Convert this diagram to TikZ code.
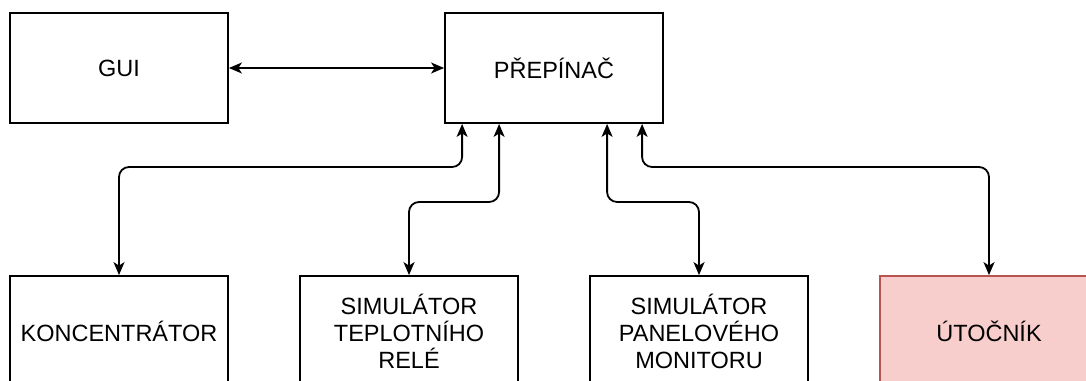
\documentclass[tikz,border=0pt]{standalone}
\usepackage{fontspec}
\setmainfont{Liberation Sans}
\usetikzlibrary{arrows.meta}

\begin{document}
\begin{tikzpicture}[
		x=1pt, y=-1pt,
		%Option for nice arrows
		>={Stealth[length=13pt,width=11pt,inset=3.5pt]}, %
		box/.style={draw, line width=1.8pt, minimum width=218pt,
			minimum height=110pt, align=center, inner sep=0pt,
			font=\fontsize{23.5}{27}\selectfont},
		link/.style={<->, line width=1.8pt, rounded corners=10pt},
	]
		% Colors
		\definecolor{attackfill}{HTML}{F8CECC}
		\definecolor{attackline}{HTML}{B85450}

		% Frame
		\useasboundingbox (0,0) rectangle (1086,380);
		\clip (0,0) rectangle (1086,380);

		% Boxes
		\node[box] (gui) at (119,68) {GUI};
		\node[box] (prepinac) at (554,68) {PŘEPÍNAČ};
		\node[box] (konc) at (119,331) {KONCENTRÁTOR};
		\node[box] (teplo) at (409,331) {SIMULÁTOR\\TEPLOTNÍHO\\RELÉ};
		\node[box] (panel) at (699,331) {SIMULÁTOR\\PANELOVÉHO\\MONITORU};
		\node[box, fill=attackfill, draw=attackline] (utocnik) at (989,331) {ÚTOČNÍK};

		% Ports on the switch
		\coordinate (p1) at ([xshift=18pt]prepinac.south west);
		\coordinate (p2) at ([xshift=55pt]prepinac.south west);
		\coordinate (p3) at ([xshift=163pt]prepinac.south west);
		\coordinate (p4) at ([xshift=198pt]prepinac.south west);

		% Links
		\draw[link] (gui) -- (prepinac);
		\draw[link] (p1) -- (p1 |- 0,167) -| (konc.north);
		\draw[link] (p2) -- (p2 |- 0,202) -| (teplo.north);
		\draw[link] (p3) -- (p3 |- 0,202) -| (panel.north);
		\draw[link] (p4) -- (p4 |- 0,167) -| (utocnik.north);
	\end{tikzpicture}
\end{document}
